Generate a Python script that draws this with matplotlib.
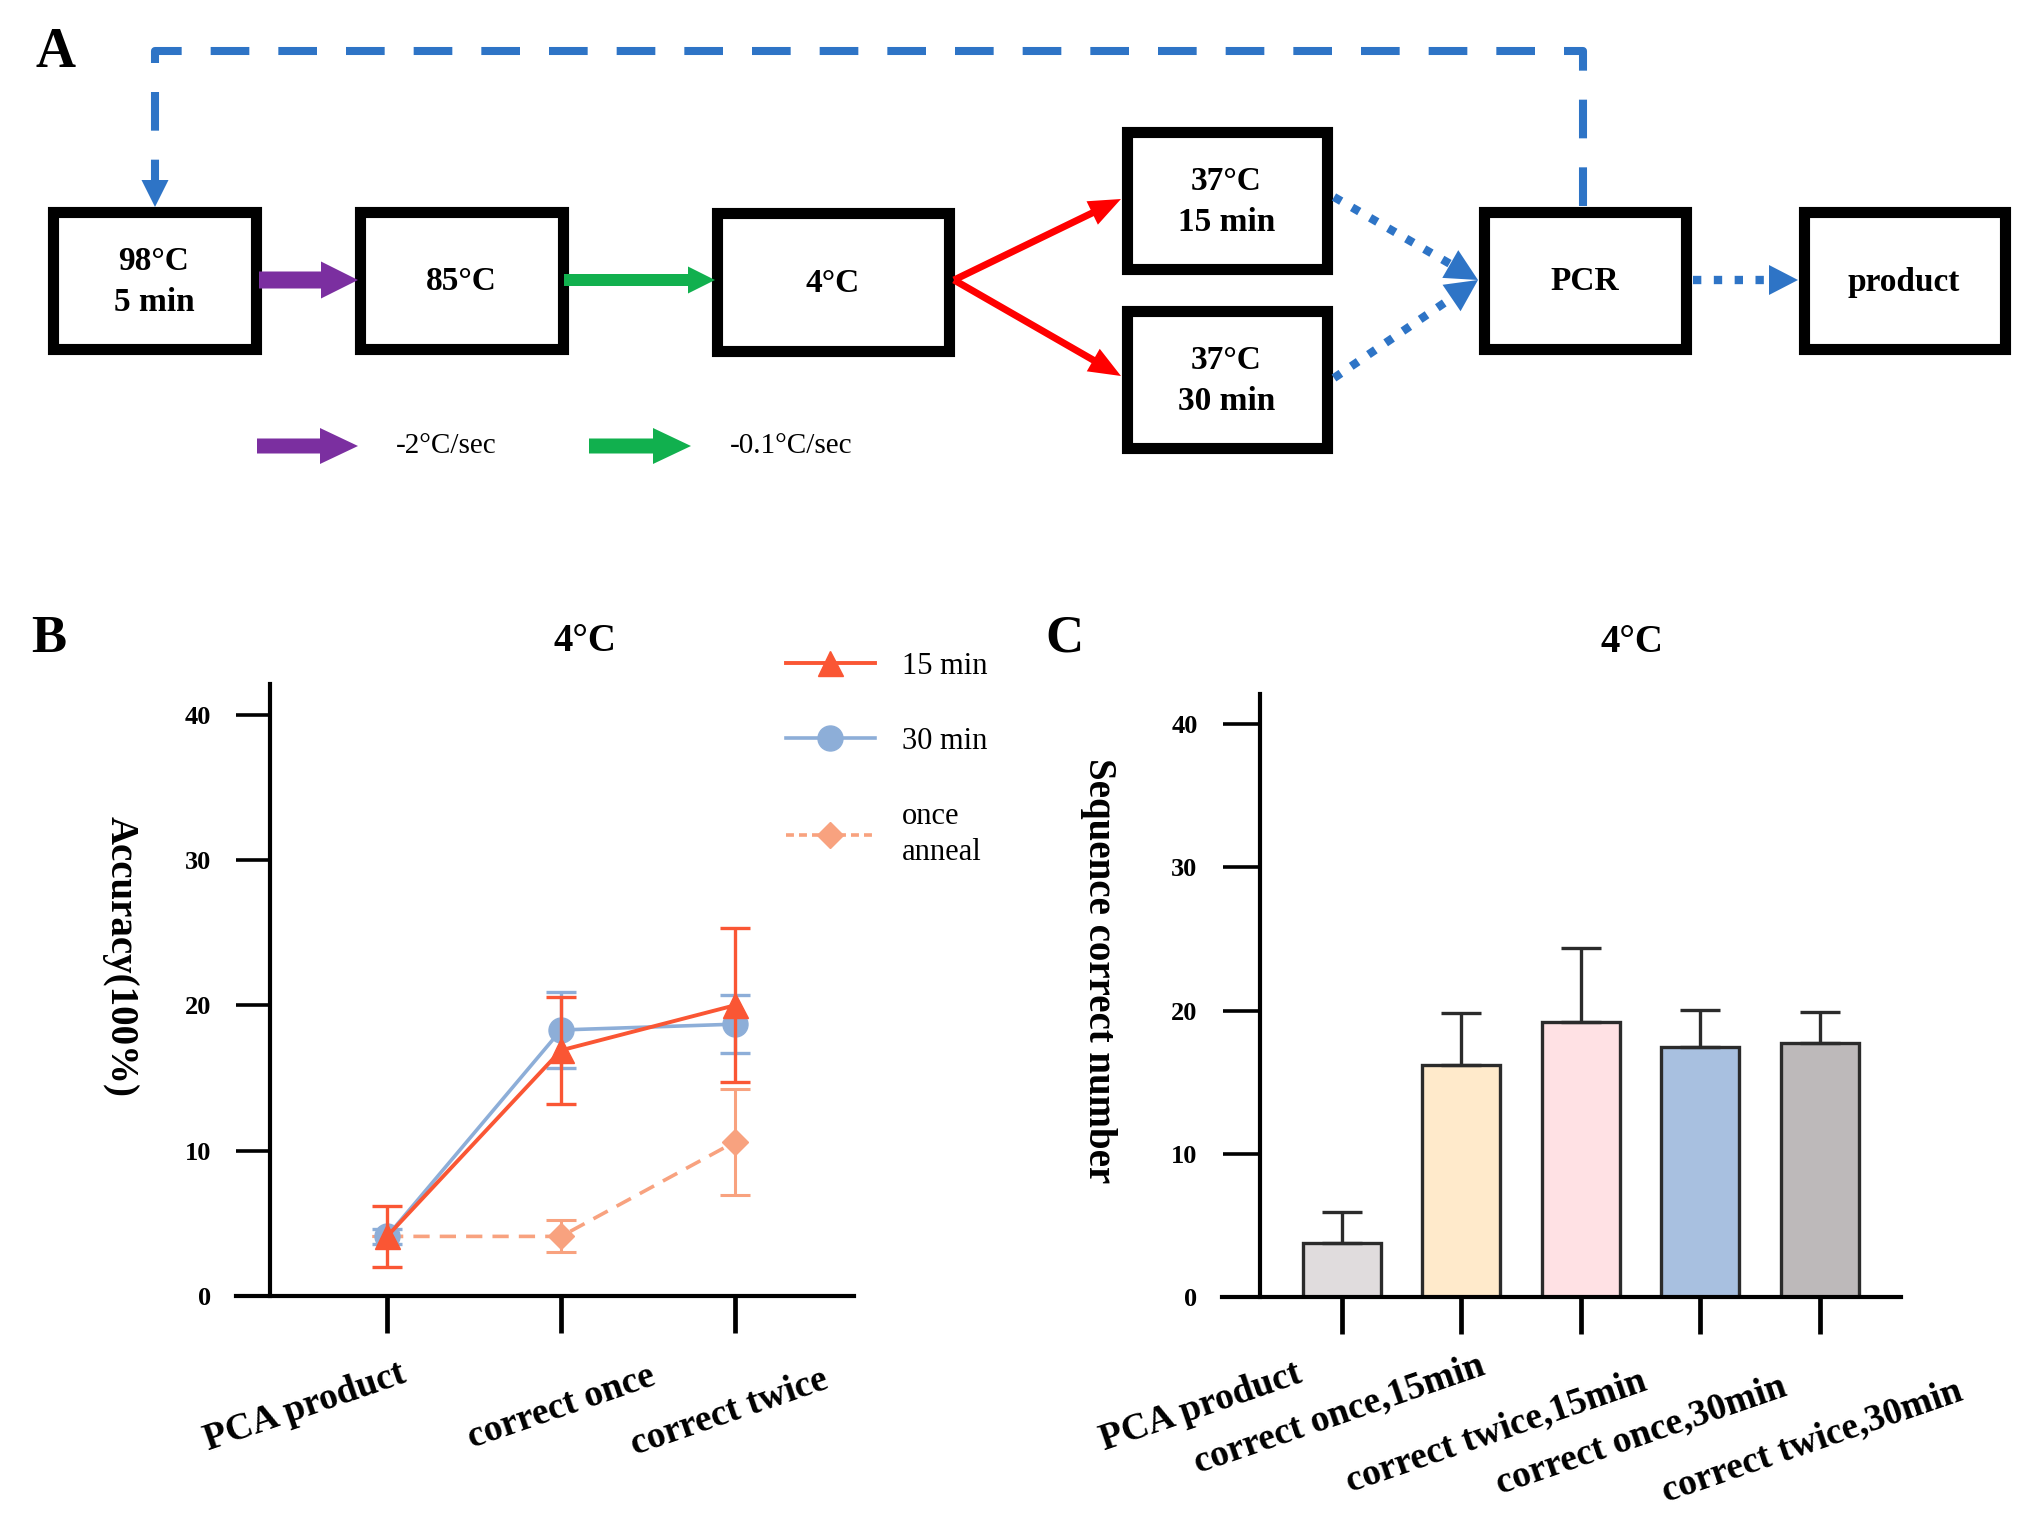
import math
import matplotlib
matplotlib.use("Agg")
import matplotlib.pyplot as plt
import numpy as np
from matplotlib.patches import Rectangle, FancyArrow
from matplotlib.lines import Line2D
from matplotlib.transforms import ScaledTranslation

plt.rcParams['font.family'] = ['Liberation Serif', 'DejaVu Serif']

# Panel A: steps of the annealing protocol
step_labels = ["98°C\n5 min", "85°C", "4°C", "37°C\n15 min", "37°C\n30 min", "PCR", "product"]
rate_labels = ["-2°C/sec", "-0.1°C/sec"]

# Panel B: accuracy per step
b_groups = ["PCA product", "correct once", "correct twice"]
b_series = ["15 min", "30 min", "once\nanneal"]
acc_15 = [4.1, 16.9, 20.0]
acc_15_err = [2.1, 3.7, 5.3]
acc_30 = [4.1, 18.3, 18.7]
acc_30_err = [0.5, 2.6, 2.0]
acc_once = [4.1, 4.1, 10.6]
acc_once_err = [0.0, 1.1, 3.65]

# Panel C: number of correct sequences
c_groups = ["PCA product", "correct once,15min", "correct twice,15min",
            "correct once,30min", "correct twice,30min"]
seq_correct = [3.8, 16.2, 19.2, 17.45, 17.75]
seq_err = [2.1, 3.6, 5.2, 2.6, 2.15]

W, H = 2028, 1533
fig = plt.figure(figsize=(W / 100, H / 100), dpi=100)
fig.patch.set_facecolor('white')

# ---------------- panel A (drawn in pixel coordinates) ----------------
axA = fig.add_axes([0, 1 - 520 / H, 1, 520 / H])
axA.set_xlim(0, W)
axA.set_ylim(520, 0)
axA.axis('off')

blue = '#2E74C6'
purple = '#7B2FA0'
green = '#11B04E'

box_px = [(47, 206, 261, 354), (354, 206, 568, 354), (711, 207, 954, 356),
          (1121, 126, 1332, 274), (1121, 305, 1332, 453),
          (1478, 206, 1691, 354), (1798, 206, 2010, 354)]
for (x0, y0, x1, y1), label in zip(box_px, step_labels):
    axA.add_patch(Rectangle((x0 + 5.5, y0 + 5.5), x1 - x0 - 11, y1 - y0 - 11,
                            fill=False, lw=8, ec='black', joinstyle='miter'))
    axA.text((x0 + x1) / 2, (y0 + y1) / 2 + 2, label, ha='center', va='center',
             fontsize=24, fontweight='bold', linespacing=1.45)


def solid_arrow(x0, y0, x1, y1, color, width, head_w, head_l):
    axA.add_patch(FancyArrow(x0, y0, x1 - x0, y1 - y0, width=width,
                             head_width=head_w, head_length=head_l,
                             length_includes_head=True, color=color, lw=0))


def dotted_arrow(x0, y0, x1, y1, hl=32, hw=32):
    L = math.hypot(x1 - x0, y1 - y0)
    ux, uy = (x1 - x0) / L, (y1 - y0) / L
    bx, by = x1 - ux * hl, y1 - uy * hl
    axA.plot([x0, bx], [y0, by], color=blue, lw=6, linestyle=(0, (1, 1.5)),
             dash_capstyle='butt')
    axA.add_patch(FancyArrow(bx, by, ux * hl, uy * hl, width=0.1, head_width=hw,
                             head_length=hl, length_includes_head=True,
                             color=blue, lw=0))


solid_arrow(259, 280, 358, 280, purple, 17, 37, 37)
solid_arrow(564, 280, 715, 280, green, 12, 27, 27)
solid_arrow(954, 280, 1121, 199, 'red', 7, 26, 32)
solid_arrow(954, 280, 1121, 376, 'red', 7, 26, 32)

dotted_arrow(1334, 197, 1478, 280)
dotted_arrow(1334, 378, 1478, 280)
dotted_arrow(1693, 280, 1798, 280, hl=29, hw=30)

# feedback loop PCR -> 98°C
axA.plot([1583, 1583, 155, 155], [206, 51, 51, 180], color=blue, lw=5.8,
         linestyle=(0, (4.8, 3.6)), dash_capstyle='butt')
axA.add_patch(FancyArrow(155, 180, 0, 27, width=0.1, head_width=27, head_length=27,
                         length_includes_head=True, color=blue, lw=0))

# rate legend
solid_arrow(257, 446, 358, 446, purple, 15, 36, 38)
solid_arrow(589, 446, 691, 446, green, 15, 36, 38)
axA.text(396, 446, rate_labels[0], ha='left', va='center', fontsize=21)
axA.text(730, 446, rate_labels[1], ha='left', va='center', fontsize=21)

fig.text(36 / W, 1 - 53 / H, "A", fontsize=40, fontweight='bold', va='center', ha='left')
fig.text(31 / W, 1 - 639 / H, "B", fontsize=38, fontweight='bold', va='center', ha='left')
fig.text(1045 / W, 1 - 639 / H, "C", fontsize=38, fontweight='bold', va='center', ha='left')


def style_axes(ax, spine_x, ytick_len, xtick_len, xpad):
    for s in ['top', 'right']:
        ax.spines[s].set_visible(False)
    ax.spines['left'].set_position(('data', spine_x))
    for s in ['left', 'bottom']:
        ax.spines[s].set_linewidth(3)
    ax.set_ylim(0, 42.1)
    ax.set_yticks([0, 10, 20, 30, 40])
    ax.tick_params(axis='y', length=ytick_len, width=2.6, pad=18, labelsize=19)
    ax.tick_params(axis='x', length=xtick_len, width=3.4, pad=xpad, labelsize=27)
    for lbl in ax.get_yticklabels():
        lbl.set_fontweight('bold')


def shift_xlabels(ax, offsets):
    for lbl, (dx, dy) in zip(ax.get_xticklabels(), offsets):
        lbl.set_transform(lbl.get_transform() +
                          ScaledTranslation(dx / 100, -dy / 100, fig.dpi_scale_trans))


# ---------------- panel B ----------------
red = '#FA5634'
lblue = '#8DAED8'
salmon = '#F8A27F'

axB = fig.add_axes([236 / W, 1 - 1296 / H, 618 / W, 612 / H])
xb = np.arange(len(b_groups))
axB.errorbar(xb, acc_once, yerr=acc_once_err, color=salmon, lw=2.6, dashes=(4.5, 2.8),
             marker='D', ms=13, capsize=11, elinewidth=2.2, capthick=2.2, zorder=2,
             clip_on=False)
axB.errorbar(xb, acc_30, yerr=acc_30_err, color=lblue, lw=2.6, marker='o', ms=18,
             capsize=11, elinewidth=2.4, capthick=2.4, zorder=3, clip_on=False)
axB.errorbar(xb, acc_15, yerr=acc_15_err, color=red, lw=2.8, marker='^', ms=18,
             capsize=11, elinewidth=2.4, capthick=2.4, zorder=4, clip_on=False)
axB.set_xlim(-0.868, 2.684)
axB.set_xticks(xb, b_groups, rotation=19, ha='center', va='center',
               rotation_mode='anchor', fontweight='bold')
style_axes(axB, -0.672, 24.5, 26.6, 55)
shift_xlabels(axB, [(-82, -2), (0, -2), (-6, 3)])
axB.set_ylabel("Accuracy(100%)", rotation=-90, fontsize=28, fontweight='bold',
               ha='center', va='center')
axB.yaxis.set_label_coords(-0.188, 0.554)
axB.text(0.565, 1.069, "4°C", transform=axB.transAxes, ha='center', va='center',
         fontsize=28, fontweight='bold')

handles = [Line2D([], [], color=red, lw=2.8, marker='^', ms=18),
           Line2D([], [], color=lblue, lw=2.6, marker='o', ms=18),
           Line2D([], [], color=salmon, lw=2.6, dashes=(2.2, 1.4), marker='D', ms=13)]
axB.legend(handles, b_series, loc='upper left', bbox_to_anchor=(786 / W, 1 - 652 / H),
           bbox_transform=fig.transFigure, frameon=False, fontsize=22,
           handlelength=2.9, handletextpad=0.9, labelspacing=1.5,
           borderpad=0, borderaxespad=0)
for t in axB.get_legend().get_texts():
    t.set_linespacing(1.35)

# ---------------- panel C ----------------
bar_colors = ['#E0DCDD', '#FFEACB', '#FFE1E4', '#A8C0E0', '#BDB9BA']
edge = '#2B2B2B'
axC = fig.add_axes([1222 / W, 1 - 1297 / H, 679 / W, 603 / H])
xc = np.arange(len(c_groups))
axC.bar(xc, seq_correct, width=0.653, color=bar_colors, edgecolor=edge,
        linewidth=2.4, zorder=2)
axC.errorbar(xc, seq_correct, yerr=[np.zeros(len(seq_err)), seq_err], fmt='none',
             ecolor=edge, elinewidth=2.4, capsize=14.5, capthick=2.4, zorder=3)
axC.set_xlim(-1.004, 4.678)
axC.set_xticks(xc, c_groups, rotation=19, ha='center', va='center',
               rotation_mode='anchor', fontweight='bold')
style_axes(axC, -0.686, 27, 26.6, 53)
shift_xlabels(axC, [(-141, 0), (-122, 7), (-85, 24), (-59, 28), (-8, 34)])
axC.set_ylabel("Sequence correct number", rotation=-90, fontsize=28,
               fontweight='bold', ha='center', va='center')
axC.yaxis.set_label_coords(-0.182, 0.542)
axC.text(0.604, 1.086, "4°C", transform=axC.transAxes, ha='center', va='center',
         fontsize=28, fontweight='bold')

fig.savefig("out.png", dpi=100, facecolor='white')
